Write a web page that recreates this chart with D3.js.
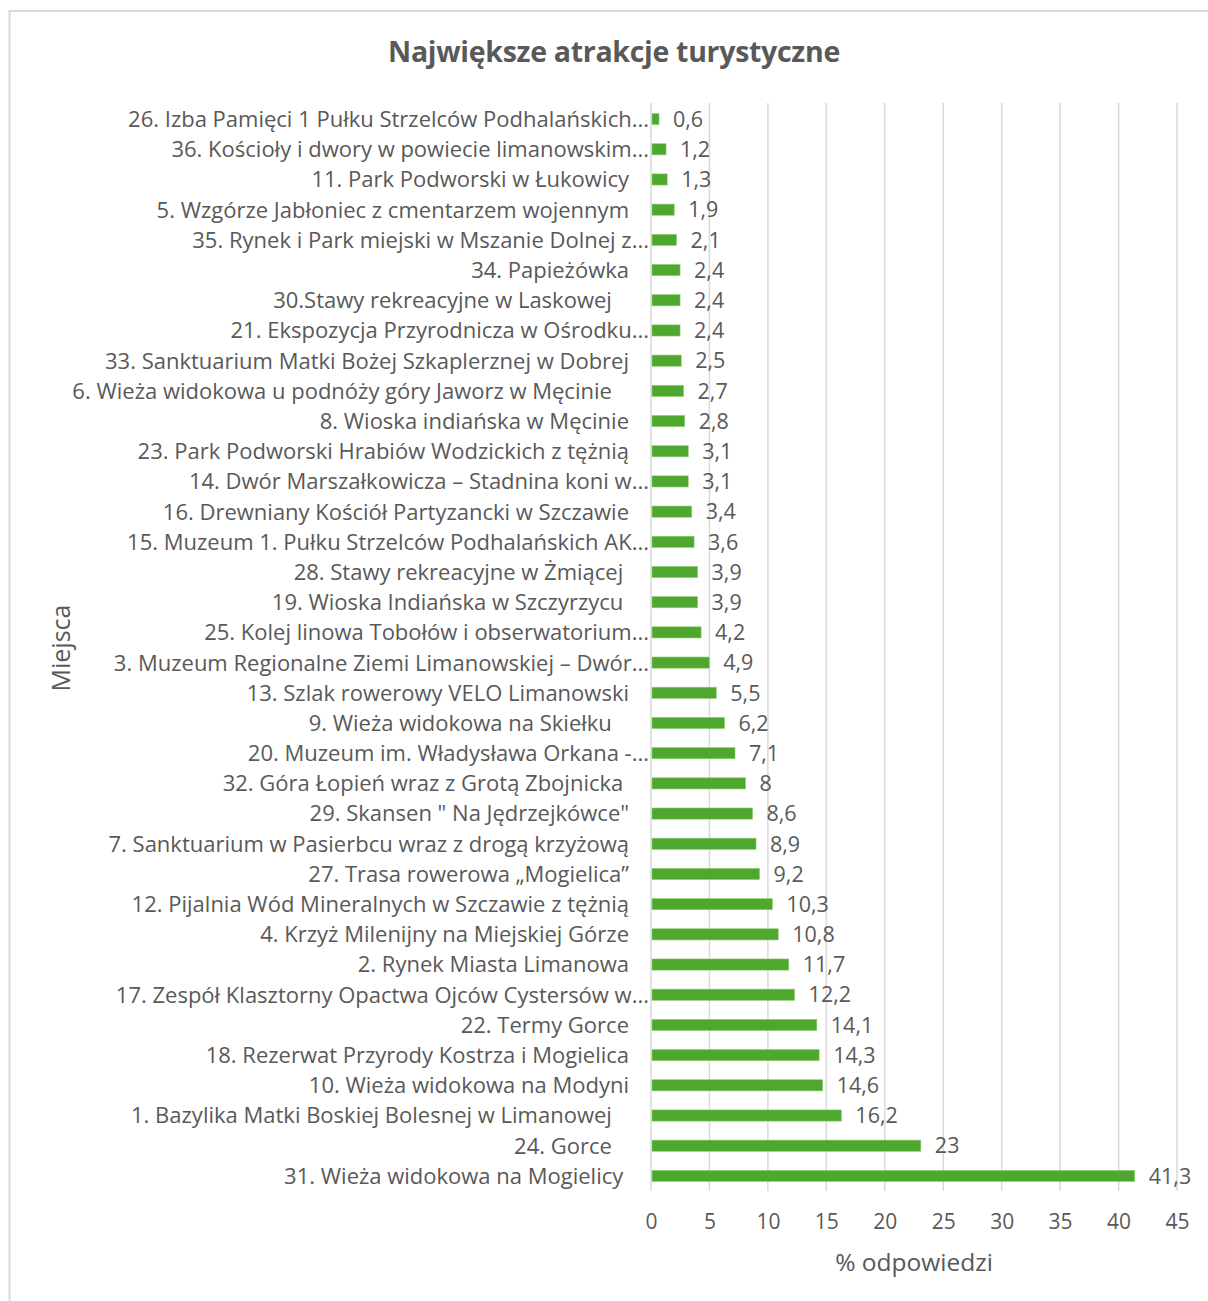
<!DOCTYPE html>
<html>
<head>
<meta charset="utf-8">
<script src="https://cdn.jsdelivr.net/npm/d3@7"></script>
<style>
  body { margin: 0; background: #fff; }
  text { font-family: "Open Sans", "Noto Sans", sans-serif; fill: #595959; white-space: pre; }
</style>
</head>
<body>
<div class="graph"></div>
<script>
// labels top to bottom as they appear (trailing spaces kept, they shift the label)
const places = [
	"26. Izba Pamięci 1 Pułku Strzelców Podhalańskich...",
	"36. Kościoły i dwory w powiecie limanowskim...",
	"11. Park Podworski w Łukowicy",
	"5. Wzgórze Jabłoniec z cmentarzem wojennym",
	"35. Rynek i Park miejski w Mszanie Dolnej z...",
	"34. Papieżówka",
	"30.Stawy rekreacyjne w Laskowej   ",
	"21. Ekspozycja Przyrodnicza w Ośrodku...",
	"33. Sanktuarium Matki Bożej Szkaplerznej w Dobrej",
	"6. Wieża widokowa u podnóży góry Jaworz w Męcinie   ",
	"8. Wioska indiańska w Męcinie",
	"23. Park Podworski Hrabiów Wodzickich z tężnią",
	"14. Dwór Marszałkowicza – Stadnina koni w...",
	"16. Drewniany Kościół Partyzancki w Szczawie",
	"15. Muzeum 1. Pułku Strzelców Podhalańskich AK...",
	"28. Stawy rekreacyjne w Żmiącej ",
	"19. Wioska Indiańska w Szczyrzycu ",
	"25. Kolej linowa Tobołów i obserwatorium...",
	"3. Muzeum Regionalne Ziemi Limanowskiej – Dwór...",
	"13. Szlak rowerowy VELO Limanowski",
	"9. Wieża widokowa na Skiełku   ",
	"20. Muzeum im. Władysława Orkana -...",
	"32. Góra Łopień wraz z Grotą Zbojnicka ",
	"29. Skansen \" Na Jędrzejkówce\"",
	"7. Sanktuarium w Pasierbcu wraz z drogą krzyżową",
	"27. Trasa rowerowa „Mogielica”",
	"12. Pijalnia Wód Mineralnych w Szczawie z tężnią",
	"4. Krzyż Milenijny na Miejskiej Górze",
	"2. Rynek Miasta Limanowa",
	"17. Zespół Klasztorny Opactwa Ojców Cystersów w...",
	"22. Termy Gorce",
	"18. Rezerwat Przyrody Kostrza i Mogielica",
	"10. Wieża widokowa na Modyni",
	"1. Bazylika Matki Boskiej Bolesnej w Limanowej   ",
	"24. Gorce   ",
	"31. Wieża widokowa na Mogielicy "
];
const percents = [0.6, 1.2, 1.3, 1.9, 2.1, 2.4, 2.4, 2.4, 2.5, 2.7, 2.8, 3.1, 3.1, 3.4, 3.6, 3.9, 3.9, 4.2, 4.9, 5.5, 6.2, 7.1, 8, 8.6, 8.9, 9.2, 10.3, 10.8, 11.7, 12.2, 14.1, 14.3, 14.6, 16.2, 23, 41.3];
const xTicks = [0, 5, 10, 15, 20, 25, 30, 35, 40, 45];

const W = 1208, H = 1301;
const plotLeft = 651, plotRight = 1177, plotTop = 104, plotBottom = 1191;

let svg = d3.select(".graph")
	.append("svg")
	.attr("width", W)
	.attr("height", H);

// chart frame (runs off the right and bottom edge like the screenshot)
svg.append("rect")
	.attr("x", 9.5).attr("y", 11)
	.attr("width", W + 20).attr("height", H + 20)
	.attr("fill", "none")
	.attr("stroke", "#d9d9d9")
	.attr("stroke-width", 2);

let x = d3.scaleLinear().domain([0, 45]).range([plotLeft, plotRight]);
let y = d3.scaleBand().domain(places.map((d, i) => i)).range([plotTop, plotBottom]).paddingInner(0.63).paddingOuter(0.315);

// gridlines
svg.append("g")
	.selectAll("line")
	.data(xTicks)
	.join("line")
	.attr("x1", d => x(d)).attr("x2", d => x(d))
	.attr("y1", plotTop - 1).attr("y2", plotBottom)
	.attr("stroke", "#d9d9d9")
	.attr("stroke-width", 1.5);

// bottom axis, only tick text
let xAxis = svg.append("g")
	.attr("transform", "translate(0," + plotBottom + ")")
	.call(d3.axisBottom(x).tickValues(xTicks).tickSize(0).tickPadding(23));
xAxis.select(".domain").remove();
xAxis.selectAll("text")
	.attr("font-size", 21)
	.attr("fill", "#595959")
	.style("font-family", "\"Open Sans\", sans-serif");

// bars
svg.append("g")
	.selectAll("rect")
	.data(percents)
	.join("rect")
	.attr("x", x(0) + 1)
	.attr("y", (d, i) => y(i))
	.attr("width", d => x(d) - x(0))
	.attr("height", y.bandwidth())
	.attr("fill", "#4ea72e")
	.attr("stroke", "#8fd070")
	.attr("stroke-width", 0.6);

// value labels
svg.append("g")
	.selectAll("text")
	.data(percents)
	.join("text")
	.attr("x", d => x(d) + 15)
	.attr("y", (d, i) => y(i) + y.bandwidth() / 2)
	.attr("dy", "0.36em")
	.attr("font-size", 21.5)
	.text(d => String(d).replace(".", ","));

// category labels: truncated ones hang out to the plot edge
svg.append("g")
	.selectAll("text")
	.data(places)
	.join("text")
	.attr("x", d => d.endsWith("...") ? 649 : 629)
	.attr("y", (d, i) => y(i) + y.bandwidth() / 2)
	.attr("dy", "0.36em")
	.attr("text-anchor", "end")
	.attr("font-size", 22)
	.text(d => d);

// title
svg.append("text")
	.attr("x", 614)
	.attr("y", 62)
	.attr("text-anchor", "middle")
	.attr("font-size", 28.5)
	.attr("font-weight", "bold")
	.attr("letter-spacing", -0.3)
	.text("Największe atrakcje turystyczne");

// axis titles
svg.append("text")
	.attr("x", (plotLeft + plotRight) / 2)
	.attr("y", 1271)
	.attr("text-anchor", "middle")
	.attr("font-size", 24.5)
	.text("% odpowiedzi");

svg.append("text")
	.attr("transform", "translate(70,648) rotate(-90)")
	.attr("text-anchor", "middle")
	.attr("font-size", 25)
	.text("Miejsca");
</script>
</body>
</html>
